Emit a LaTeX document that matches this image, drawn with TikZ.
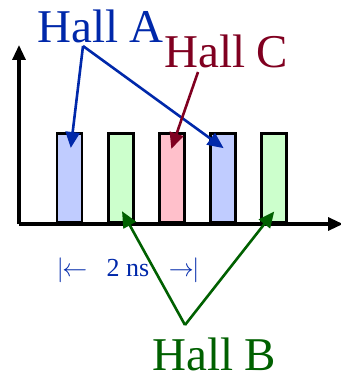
\documentclass[tikz,border=0pt]{standalone}
\usepackage{fontspec}
\setmainfont{Liberation Serif}
\usetikzlibrary{arrows.meta}
\definecolor{hallA}{RGB}{0,40,170}
\definecolor{hallC}{RGB}{128,0,32}
\definecolor{hallB}{RGB}{0,96,0}
\definecolor{fillA}{RGB}{192,204,255}
\definecolor{fillB}{RGB}{204,255,204}
\definecolor{fillC}{RGB}{255,192,203}
\tikzset{
  bar/.style={draw=black, line width=2.8pt, minimum width=25pt, minimum height=89pt, inner sep=0pt, anchor=south},
  axis/.style={line width=3.2pt, -{Triangle[length=15pt,width=13pt]}},
  ptr/.style={line width=2.6pt, -{Triangle[length=16pt,width=14pt]}, shorten >=-2pt},
  hall/.style={font=\fontsize{47}{50}\selectfont, inner sep=0pt, anchor=base west}
}
\begin{document}
\begin{tikzpicture}[x=1pt,y=-1pt]
\useasboundingbox (0,0) rectangle (340,377);
% axes
\coordinate (O) at (19,224);
\coordinate (ytip) at (19,45);
\coordinate (xtip) at (343,224);
\draw[axis] (O) -- (ytip);
% bars
\node[bar, fill=fillA] (b1) at (69.5,224) {};
\node[bar, fill=fillB] (b2) at (121,224) {};
\node[bar, fill=fillC] (b3) at (172,224) {};
\node[bar, fill=fillA] (b4) at (223,224) {};
\node[bar, fill=fillB] (b5) at (274,224) {};
\draw[axis] (O) -- (xtip);
% labels
\node[hall, text=hallA] (tA) at (37,43) {Hall A};
\node[hall, text=hallC] (tC) at (164,68) {Hall C};
\node[hall, text=hallB] (tB) at (152,370) {Hall B};
\node[text=hallA, font=\fontsize{26}{28}\selectfont, inner sep=0pt] (ns) at (128,270)
  {$|\!\!\leftarrow$\ \ \ 2 ns\ \ \ $\rightarrow\!\!|$};
% connector origins and targets
\coordinate (pA) at (83,46);
\coordinate (pC) at (198,72);
\coordinate (pB) at (185,325);
\coordinate (tgA1) at (71,146);
\coordinate (tgA2) at (222,147);
\coordinate (tgC) at (172,147);
\coordinate (tgB1) at (123,213);
\coordinate (tgB2) at (273,213);
\draw[ptr, hallA] (pA) -- (tgA1);
\draw[ptr, hallA] (pA) -- (tgA2);
\draw[ptr, hallC] (pC) -- (tgC);
\draw[ptr, hallB] (pB) -- (tgB1);
\draw[ptr, hallB] (pB) -- (tgB2);
\end{tikzpicture}
\end{document}
